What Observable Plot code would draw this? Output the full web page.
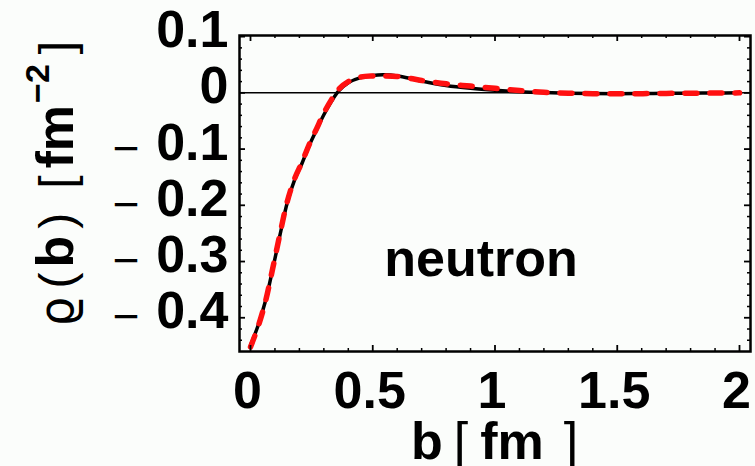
<!DOCTYPE html>
<html><head><meta charset="utf-8">
<script src="https://cdn.jsdelivr.net/npm/d3@7"></script>
<script src="https://cdn.jsdelivr.net/npm/@observablehq/plot@0.6"></script>
<style>
html,body{margin:0;padding:0;background:#fbfdfb;}
#chart svg{display:block;}
</style></head><body><div id="chart"></div>
<script>
// impact parameter b [fm]
const bValues   = [0, 0.03, 0.06, 0.09, 0.12, 0.15, 0.18, 0.21, 0.24, 0.27, 0.30, 0.33, 0.36, 0.40, 0.45, 0.50, 0.55, 0.60, 0.65, 0.70, 0.80, 0.90, 1.00, 1.10, 1.20, 1.30, 1.40, 1.50, 1.60, 1.70, 1.80, 1.90, 2.00];
// solid black curve
const rhoSolid  = [-0.449, -0.415, -0.372, -0.315, -0.254, -0.196, -0.155, -0.126, -0.094, -0.066, -0.039, -0.016, 0.003, 0.018, 0.027, 0.031, 0.032, 0.030, 0.026, 0.021, 0.013, 0.008, 0.0045, 0.002, 0.0005, -0.0005, -0.0012, -0.0014, -0.0012, -0.0009, -0.0006, -0.0003, 0];
// red dashed curve
const rhoDashed = [-0.452, -0.417, -0.373, -0.314, -0.252, -0.194, -0.153, -0.124, -0.092, -0.064, -0.036, -0.013, 0.006, 0.020, 0.028, 0.030, 0.030, 0.029, 0.026, 0.022, 0.016, 0.012, 0.008, 0.004, 0.001, -0.0005, -0.0015, -0.0016, -0.0014, -0.001, -0.0007, -0.0004, 0];

const xTickLabels = [0, 0.5, 1, 1.5, 2];
const xMinorTicks = [0.1, 0.2, 0.3, 0.4, 0.6, 0.7, 0.8, 0.9, 1.1, 1.2, 1.3, 1.4, 1.6, 1.7, 1.8, 1.9];
const yTickLabels = [0.1, 0, -0.1, -0.2, -0.3, -0.4];
const yMinorTicks = [0.08, 0.06, 0.04, 0.02, -0.02, -0.04, -0.06, -0.08, -0.12, -0.14, -0.16, -0.18, -0.22, -0.24, -0.26, -0.28, -0.32, -0.34, -0.36, -0.38, -0.42, -0.44];
const panelLabel = ["neutron"];

const solid  = bValues.map((b, i) => ({b, rho: rhoSolid[i]}));
const dashed = bValues.map((b, i) => ({b, rho: rhoDashed[i]}));

const W = 755, H = 466;
const mL = 239, mR = 5, mT = 35, mB = 115;
const pw = W - mL - mR, ph = H - mT - mB;
const FONT = "'Liberation Sans', Arial, Helvetica, sans-serif";

const plot = Plot.plot({
  width: W, height: H,
  marginLeft: mL, marginRight: mR, marginTop: mT, marginBottom: mB,
  x: {domain: [-0.045, 2.045], axis: null},
  y: {domain: [-0.46, 0.102], axis: null},
  style: {background: "transparent", fontFamily: FONT, color: "black", overflow: "visible"},
  marks: [
    Plot.ruleY([0], {stroke: "black", strokeWidth: 1.5}),
    Plot.line(solid, {x: "b", y: "rho", stroke: "black", strokeWidth: 3.5, curve: "catmull-rom"}),
    Plot.line(dashed, {x: "b", y: "rho", stroke: "#ff1010", strokeWidth: 5.5, strokeDasharray: "12,13", strokeLinecap: "round", curve: "catmull-rom"}),
    // inward ticks, bottom/top
    Plot.tickX(xMinorTicks, {x: d => d, insetTop: ph - 3, stroke: "black", strokeWidth: 1.5}),
    Plot.tickX(xMinorTicks, {x: d => d, insetBottom: ph - 3, stroke: "black", strokeWidth: 1.5}),
    Plot.tickX(xTickLabels, {x: d => d, insetTop: ph - 6, stroke: "black", strokeWidth: 1.8}),
    Plot.tickX(xTickLabels, {x: d => d, insetBottom: ph - 6, stroke: "black", strokeWidth: 1.8}),
    // inward ticks, left/right
    Plot.tickY(yMinorTicks, {y: d => d, insetRight: pw - 3, stroke: "black", strokeWidth: 1.5}),
    Plot.tickY(yMinorTicks, {y: d => d, insetLeft: pw - 3, stroke: "black", strokeWidth: 1.5}),
    Plot.tickY(yTickLabels, {y: d => d, insetRight: pw - 6, stroke: "black", strokeWidth: 1.8}),
    Plot.tickY(yTickLabels, {y: d => d, insetLeft: pw - 6, stroke: "black", strokeWidth: 1.8}),
    Plot.frame({stroke: "black", strokeWidth: 2.5}),
    // x tick labels
    Plot.text(xTickLabels, {x: d => d, frameAnchor: "bottom", dy: 56, lineAnchor: "bottom", text: d => String(d),
      fontSize: 52, fontWeight: "bold", fill: "black", dx: -3}),
    // y tick labels (bold numbers, thin minus sign)
    Plot.text(yTickLabels, {y: d => d, frameAnchor: "left", dx: -11, dy: -6, lineAnchor: "middle", textAnchor: "end",
      text: d => String(Math.abs(d)), fontSize: 52, fontWeight: "bold", fill: "black"}),
    Plot.text(yTickLabels.filter(d => d < 0), {y: d => d, frameAnchor: "left", dx: -100, dy: 0, lineAnchor: "middle", textAnchor: "end",
      text: () => "\u2212", fontSize: 46, fontWeight: "normal", fill: "black"}),
    // panel label
    Plot.text(panelLabel, {frameAnchor: "middle", dx: -14, dy: 82, lineAnchor: "bottom", text: d => d,
      fontSize: 52, fontWeight: "bold", fill: "black"})
  ]
});

document.getElementById("chart").appendChild(plot);

const svg = d3.select(plot);
// x axis title: b [ fm ]
const xt = svg.append("text")
  .attr("x", 411).attr("y", 459).attr("text-anchor", "start")
  .attr("font-family", FONT).attr("font-size", 52).attr("fill", "black");
xt.append("tspan").attr("font-weight", "bold").text("b");
xt.append("tspan").attr("dx", 11).attr("font-weight", "normal").attr("font-size", 52).text("[");
xt.append("tspan").attr("dx", 12).attr("font-weight", "bold").text("fm");
xt.append("tspan").attr("dx", 20).attr("font-weight", "normal").attr("font-size", 52).text("]");

// y axis title: ϱ ( b ) [ fm^-2 ]
const yt = svg.append("text")
  .attr("transform", "translate(73,327) rotate(-90)").attr("text-anchor", "start")
  .attr("font-family", FONT).attr("font-size", 52).attr("fill", "black");
yt.append("tspan").attr("font-family", "'DejaVu Sans', sans-serif").attr("font-weight", "normal").attr("font-size", 48).text("\u03F1");
yt.append("tspan").attr("dx", 8).attr("font-weight", "normal").attr("font-size", 48).text("(");
yt.append("tspan").attr("dx", 5).attr("font-weight", "bold").text("b");
yt.append("tspan").attr("dx", 7).attr("font-weight", "normal").attr("font-size", 48).text(")");
yt.append("tspan").attr("dx", 24).attr("font-weight", "normal").attr("font-size", 48).text("[");
yt.append("tspan").attr("dx", 7).attr("font-weight", "bold").text("fm");
yt.append("tspan").attr("dx", 2).attr("dy", -24).attr("font-weight", "bold").attr("font-size", 34).text("\u22122");
yt.append("tspan").attr("dx", 10).attr("dy", 24).attr("font-weight", "normal").attr("font-size", 48).text("]");
</script>
</body></html>
